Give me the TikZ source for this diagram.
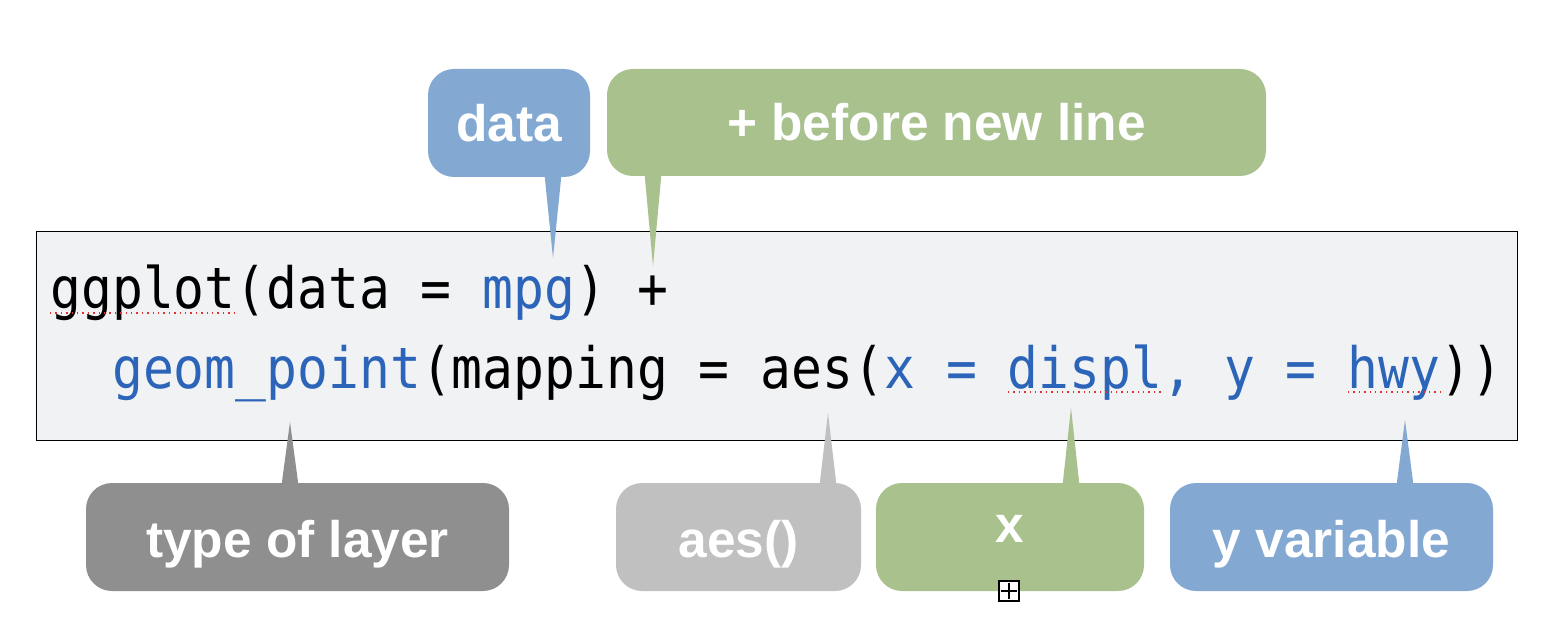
\documentclass[tikz,border=0pt]{standalone}
\usepackage{fontspec}
\setmainfont{Liberation Sans}
\newfontfamily\codefont[FakeStretch=0.9]{DejaVu Sans Mono}
\definecolor{cblue}{HTML}{83A9D3}
\definecolor{cgreen}{HTML}{A8C18D}
\definecolor{cdgray}{HTML}{8F8F8F}
\definecolor{clgray}{HTML}{C0C0C0}
\definecolor{codebg}{HTML}{F1F2F4}
\definecolor{codeblue}{HTML}{2B64B8}
\definecolor{spellred}{HTML}{E03030}
\begin{document}
\begin{tikzpicture}[x=0.5pt,y=-0.5pt,
  callout/.style={rounded corners=13pt, inner sep=0pt},
  lbl/.style={inner sep=0pt, text=white,
    font=\fontsize{25.7pt}{30pt}\selectfont\bfseries},
  code/.style={anchor=base west, inner sep=0pt,
    font=\fontsize{28.5pt}{30pt}\codefont},
  spell/.style={spellred, line width=0.7pt, dotted},
]
\useasboundingbox (0,0) rectangle (1558,620);
% code box
\draw[fill=codebg, line width=0.5pt] (36,232) rectangle (1517,440);
\node[code] (line1) at (50,308) {ggplot(data = \textcolor{codeblue}{mpg}) +};
\node[code] (line2) at (50,388) {\ \ \textcolor{codeblue}{geom\_point}(mapping = aes(\textcolor{codeblue}{x = displ, y = hwy}))};
\draw[spell] (50,313) -- (235,313);
\draw[spell] (1008,392) -- (1162,392);
\draw[spell] (1348,392) -- (1441,392);

% callout boxes
\node[callout, fill=cblue, minimum width=81pt, minimum height=54pt] (data) at (509,123) {};
\node[callout, fill=cgreen, minimum width=329.5pt, minimum height=53.5pt] (plus) at (936.5,122.5) {};
\node[callout, fill=cdgray, minimum width=211.5pt, minimum height=54pt] (layer) at (297.5,537) {};
\node[callout, fill=clgray, minimum width=122.5pt, minimum height=54pt] (aes) at (738.5,537) {};
\node[callout, fill=cgreen, minimum width=134pt, minimum height=54pt] (xb) at (1010,537) {};
\node[callout, fill=cblue, minimum width=161.5pt, minimum height=54pt] (yvar) at (1331.5,537) {};

% labels
\node[lbl] (tdatal) at (data.center) {data};
\node[lbl] (tplusl) at (plus.center) {+ before new line};
\node[lbl] (tlayerl) at ([yshift=-3.5pt]layer.center) {type of layer};
\node[lbl] (taesl) at ([yshift=-3.5pt]aes.center) {aes()};
\node[lbl] (txl) at ([yshift=4pt]xb.center) {x};
\node[lbl] (tyl) at ([yshift=-3.5pt]yvar.center) {y variable};

% pointer tips
\coordinate (tdata) at (553,258);
\coordinate (tplus) at (653,266);
\coordinate (tlayer) at (290,422);
\coordinate (taes) at (828,413);
\coordinate (tx) at (1071,408);
\coordinate (ty) at (1405,420);

\fill[cblue] ([xshift=-4.2pt,yshift=1pt]tdata |- data.south) -- ([xshift=4.2pt,yshift=1pt]tdata |- data.south) -- (tdata) -- cycle;
\fill[cgreen] ([xshift=-4.2pt,yshift=1pt]tplus |- plus.south) -- ([xshift=4.2pt,yshift=1pt]tplus |- plus.south) -- (tplus) -- cycle;
\fill[cdgray] ([xshift=-4.2pt,yshift=-1pt]tlayer |- layer.north) -- ([xshift=4.2pt,yshift=-1pt]tlayer |- layer.north) -- (tlayer) -- cycle;
\fill[clgray] ([xshift=-4.2pt,yshift=-1pt]taes |- aes.north) -- ([xshift=4.2pt,yshift=-1pt]taes |- aes.north) -- (taes) -- cycle;
\fill[cgreen] ([xshift=-4.2pt,yshift=-1pt]tx |- xb.north) -- ([xshift=4.2pt,yshift=-1pt]tx |- xb.north) -- (tx) -- cycle;
\fill[cblue] ([xshift=-4.2pt,yshift=-1pt]ty |- yvar.north) -- ([xshift=4.2pt,yshift=-1pt]ty |- yvar.north) -- (ty) -- cycle;

% small handle box
\node[draw=black, fill=white, line width=0.9pt, minimum size=10pt, inner sep=0pt] (handle) at (1009,591) {};
\draw[line width=0.6pt] ([yshift=-1.3pt]handle.north) -- ([yshift=1.3pt]handle.south);
\draw[line width=0.6pt] ([xshift=1.3pt]handle.west) -- ([xshift=-1.3pt]handle.east);
\end{tikzpicture}
\end{document}
